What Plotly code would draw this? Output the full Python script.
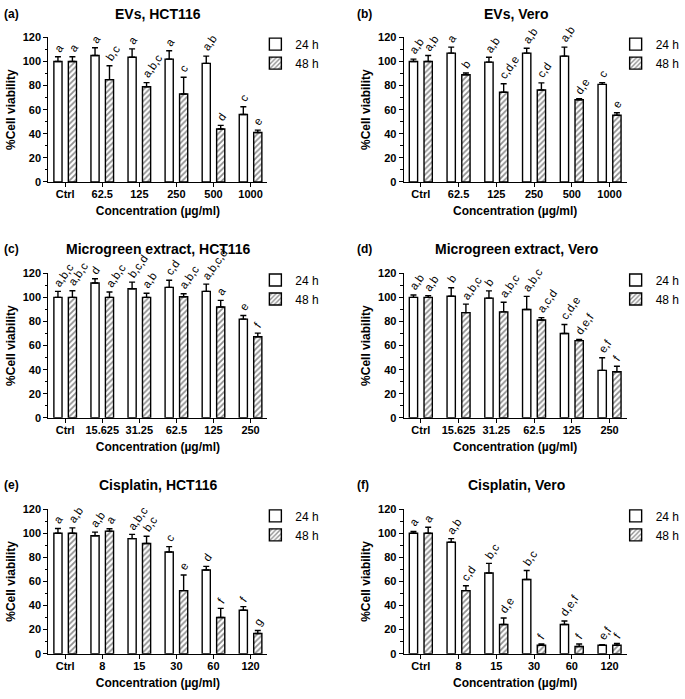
import plotly.graph_objects as go

# ---------------- data ----------------
cats_evs = ["Ctrl", "62.5", "125", "250", "500", "1000"]
cats_mg = ["Ctrl", "15.625", "31.25", "62.5", "125", "250"]
cats_cis = ["Ctrl", "8", "15", "30", "60", "120"]

# (a) EVs, HCT116
a_24 = [100, 105, 103.5, 102, 98.5, 56]
a_24_err = [4, 6.5, 7, 7, 6, 6.5]
a_48 = [100, 85, 79, 73, 44, 41]
a_48_err = [4, 11.5, 3.5, 14, 3, 2]
a_24_lab = ["a", "a", "a", "a", "a,b", "c"]
a_48_lab = ["a", "b,c", "a,b,c", "c", "d", "e"]

# (b) EVs, Vero
b_24 = [100, 107, 99.5, 107, 104.5, 81]
b_24_err = [2, 5, 4, 4, 7.5, 1.5]
b_48 = [100, 89, 74.5, 76.3, 68.2, 55.4]
b_48_err = [5, 1.5, 7, 6, 1, 2]
b_24_lab = ["a,b", "a", "a,b", "a,b", "a,b", "c"]
b_48_lab = ["a,b", "b", "c,d,e", "c,d", "d,e", "e"]

# (c) Microgreen extract, HCT116
c_24 = [100, 112, 107.2, 108.3, 105, 82]
c_24_err = [5, 3.5, 5.5, 6, 6, 3]
c_48 = [100, 100, 100, 100.5, 92, 67.3]
c_48_err = [5.5, 4.5, 3.5, 2.5, 5.5, 3]
c_24_lab = ["a,b,c", "d", "b,c,d", "c,d", "a,b,c,d", "e"]
c_48_lab = ["a,b,c", "a,b,c", "a,b", "a,b,c", "a", "f"]

# (d) Microgreen extract, Vero
d_24 = [100, 101, 99.4, 89.9, 70, 39.4]
d_24_err = [2, 7, 6, 11, 7.5, 10.5]
d_48 = [100, 87.4, 88, 81.2, 64.1, 38.3]
d_48_err = [1.5, 7, 8, 2, 1, 4.5]
d_24_lab = ["a,b", "b", "b", "a,b,c", "c,d,e", "e,f"]
d_48_lab = ["a,b", "a,b,c", "a,b,c", "a,c,d", "d,e,f", "f"]

# (e) Cisplatin, HCT116
e_24 = [100, 98, 95.6, 84.4, 69.5, 36.1]
e_24_err = [4, 3, 3.5, 4.5, 3, 3]
e_48 = [100, 101.8, 91.5, 52.4, 30.1, 16.8]
e_48_err = [4.5, 2, 6, 13, 7.5, 2.5]
e_24_lab = ["a", "a,b", "a,b,c", "c", "d", "f"]
e_48_lab = ["a,b", "a", "b,c", "e", "f", "g"]

# (f) Cisplatin, Vero
f_24 = [100, 92.6, 67, 61.6, 24.2, 7]
f_24_err = [1.5, 3, 8, 7.5, 3, 0.5]
f_48 = [100, 52.4, 24.2, 7, 6, 7]
f_48_err = [5, 4, 5.5, 1, 2, 1.5]
f_24_lab = ["a", "a,b", "b,c", "b,c", "d,e,f", "e,f"]
f_48_lab = ["a", "c,d", "d,e", "f", "f", "f"]

panel_tags = ["(a)", "(b)", "(c)", "(d)", "(e)", "(f)"]
panel_titles = ["EVs, HCT116", "EVs, Vero",
                "Microgreen extract, HCT116", "Microgreen extract, Vero",
                "Cisplatin, HCT116", "Cisplatin, Vero"]
series_names = ["24 h", "48 h"]
y_ticks = [0, 20, 40, 60, 80, 100, 120]
x_title = "Concentration (µg/ml)"
y_title = "%Cell viability"

panels = [
    (cats_evs, a_24, a_24_err, a_48, a_48_err, a_24_lab, a_48_lab),
    (cats_evs, b_24, b_24_err, b_48, b_48_err, b_24_lab, b_48_lab),
    (cats_mg, c_24, c_24_err, c_48, c_48_err, c_24_lab, c_48_lab),
    (cats_mg, d_24, d_24_err, d_48, d_48_err, d_24_lab, d_48_lab),
    (cats_cis, e_24, e_24_err, e_48, e_48_err, e_24_lab, e_48_lab),
    (cats_cis, f_24, f_24_err, f_48, f_48_err, f_24_lab, f_48_lab),
]

# ---------------- layout geometry (pixels) ----------------
W, H = 685, 699
cols = [(49, 270), (408, 633)]
rows = [(32, 179), (272, 419), (512, 659)]
legend_left = [258, 622]
legend_top = [24, 264, 504]
title_cx = [160, 522]
tag_x = [2, 359]
title_y = [8, 247, 487]

FONT = "Liberation Sans, Arial, sans-serif"
BW = 0.22
BC = 0.195

fig = go.Figure()
layout = dict(
    width=W, height=H, margin=dict(l=0, r=0, t=0, b=0),
    plot_bgcolor="white", paper_bgcolor="white",
    barmode="overlay", font=dict(family=FONT, color="black"),
    annotations=[],
)

def px(p):
    return p / W

def py(p):
    return 1 - p / H

for i, (cats, v24, e24, v48, e48, l24, l48) in enumerate(panels):
    r, c = divmod(i, 2)
    n = i + 1
    xa = "x" if n == 1 else f"x{n}"
    ya = "y" if n == 1 else f"y{n}"
    xkey = "xaxis" if n == 1 else f"xaxis{n}"
    ykey = "yaxis" if n == 1 else f"yaxis{n}"
    leg = "legend" if n == 1 else f"legend{n}"

    for s, (vals, errs, labs, centre) in enumerate(
            [(v24, e24, l24, -BC), (v48, e48, l48, BC)]):
        marker = dict(color="white", line=dict(color="black", width=1.4))
        if s == 1:
            marker["pattern"] = dict(shape="/", size=4, solidity=0.45,
                                     fgcolor="#222222", bgcolor="white")
        fig.add_trace(go.Bar(
            x=cats, y=vals, width=BW, offset=centre - BW / 2,
            name=series_names[s], legend=leg, xaxis=xa, yaxis=ya,
            marker=marker,
            error_y=dict(type="data", symmetric=False, array=errs,
                         arrayminus=[0] * len(errs), color="black",
                         thickness=1.4, width=3),
        ))
        for j, lab in enumerate(labs):
            layout["annotations"].append(dict(
                x=j + centre, y=vals[j] + errs[j], xref=xa, yref=ya,
                text=lab, showarrow=False, textangle=-55,
                xanchor="left", yanchor="bottom", xshift=-9, yshift=0,
                font=dict(size=11.5, family=FONT, color="black")))

    x0, x1 = cols[c]
    yt, yb = rows[r]
    layout[xkey] = dict(
        domain=[px(x0), px(x1)], anchor=ya, type="category",
        range=[-0.45, 5.45], showline=True, linecolor="black", linewidth=1.4,
        ticks="outside", ticklen=4, tickwidth=1.4, tickcolor="black",
        ticklabelstandoff=-2,
        tickfont=dict(size=11, family=FONT, weight="bold"),
        title=dict(text=x_title, standoff=7,
                   font=dict(size=12, family=FONT, weight="bold")),
        showgrid=False, zeroline=False, fixedrange=True,
    )
    layout[ykey] = dict(
        domain=[py(yb), py(yt)], anchor=xa, range=[0, 120],
        tickvals=y_ticks, showline=True, linecolor="black", linewidth=1.4,
        ticks="outside", ticklen=4, tickwidth=1.4, tickcolor="black",
        minor=dict(dtick=10, ticks="outside", ticklen=2.5, tickwidth=1.2,
                   tickcolor="black"),
        tickfont=dict(size=11, family=FONT, weight="bold"),
        title=dict(text=y_title, standoff=4,
                   font=dict(size=12, family=FONT, weight="bold")),
        showgrid=False, zeroline=False, fixedrange=True,
    )
    layout[leg] = dict(
        x=px(legend_left[c]), y=py(legend_top[r]), xanchor="left",
        yanchor="top", bgcolor="rgba(0,0,0,0)",
        font=dict(size=12, family=FONT), tracegroupgap=0,
    )
    layout["annotations"].append(dict(
        x=px(title_cx[c]), y=py(title_y[r]), xref="paper", yref="paper",
        text=panel_titles[i], showarrow=False, xanchor="center",
        yanchor="middle", font=dict(size=14, family=FONT, weight="bold")))
    layout["annotations"].append(dict(
        x=px(tag_x[c]), y=py(title_y[r]), xref="paper", yref="paper",
        text=panel_tags[i], showarrow=False, xanchor="left",
        yanchor="middle", font=dict(size=12, family=FONT, weight="bold")))

fig.update_layout(**layout)
fig.write_html("out.html", config={"displayModeBar": False},
               post_script="document.body.style.margin='0';")
